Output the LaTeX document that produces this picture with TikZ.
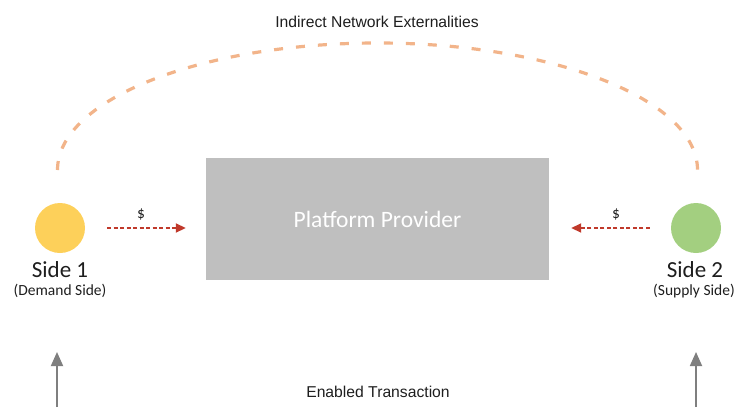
\documentclass[tikz,border=0pt]{standalone}
\usepackage{fontspec}
\setmainfont{Carlito}
\newfontfamily\helv{Liberation Sans}
\usetikzlibrary{arrows.meta}

\definecolor{sideone}{HTML}{FDD05A}
\definecolor{sidetwo}{HTML}{A3CF80}
\definecolor{platgray}{HTML}{BFBFBF}
\definecolor{payred}{HTML}{C0392B}
\definecolor{arcorange}{HTML}{F2B48A}
\definecolor{flowgray}{HTML}{7F7F7F}
\definecolor{inkgray}{HTML}{1E1E1E}

\tikzset{
  sidedot/.style={circle, inner sep=0pt, minimum size=50pt},
  platbox/.style={fill=platgray, inner sep=0pt, minimum width=343pt,
    minimum height=122pt, text=white, font=\fontsize{23.5}{26}\selectfont},
  sidename/.style={anchor=base, text=inkgray, font=\fontsize{23}{26}\selectfont},
  sidesub/.style={anchor=base, text=inkgray, font=\fontsize{15.5}{17}\selectfont},
  dollar/.style={anchor=base, text=inkgray, font=\fontsize{15.5}{17}\selectfont},
  caption/.style={anchor=base, text=inkgray, font=\helv\fontsize{15.7}{18}\selectfont},
  payarrow/.style={draw=payred, line width=1.8pt, dash pattern=on 4pt off 2.5pt,
    -{Triangle[length=10pt,width=9pt,fill=payred]}},
  extarc/.style={draw=arcorange, line width=3.2pt, dash pattern=on 9pt off 13pt},
  flowarrow/.style={draw=flowgray, line width=1.8pt,
    -{Triangle[length=14pt,width=12pt,fill=flowgray]}}
}

\begin{document}
\begin{tikzpicture}[x=1pt,y=-1pt]
  \useasboundingbox (0,0) rectangle (736,407);

  % the two market sides and the platform between them
  \node[sidedot, fill=sideone] (s1) at (60,228) {};
  \node[sidedot, fill=sidetwo] (s2) at (696,228) {};
  \node[platbox] (pp) at (377.5,219) {Platform Provider};

  % side labels
  \node[sidename] (n1) at (60,277) {Side 1};
  \node[sidesub]  (d1) at (60,295) {(Demand Side)};
  \node[sidename] (n2) at (695,277) {Side 2};
  \node[sidesub]  (d2) at (694,295) {(Supply Side)};

  % payments flowing into the platform
  \draw[payarrow, shorten <=22pt, shorten >=20pt] (s1.east) -- (s1.east -| pp.west);
  \draw[payarrow, shorten <=21pt, shorten >=22pt] (s2.west) -- (s2.west -| pp.east);
  \node[dollar] (p1) at (141,218) {\$};
  \node[dollar] (p2) at (616,218) {\$};

  % indirect network externalities linking both sides
  \coordinate (arcL) at (57.5,170);
  \draw[extarc] (arcL) arc[start angle=180, end angle=360, x radius=320, y radius=127];
  \node[caption] (ext) at (377,27) {Indirect Network Externalities};

  % enabled transaction
  \coordinate (b1) at (57,407);
  \coordinate (t1) at (57,352);
  \coordinate (b2) at (696,407);
  \coordinate (t2) at (696,352);
  \draw[flowarrow] (b1) -- (t1);
  \draw[flowarrow] (b2) -- (t2);
  \node[caption] (tx) at (378,397) {Enabled Transaction};
\end{tikzpicture}
\end{document}
